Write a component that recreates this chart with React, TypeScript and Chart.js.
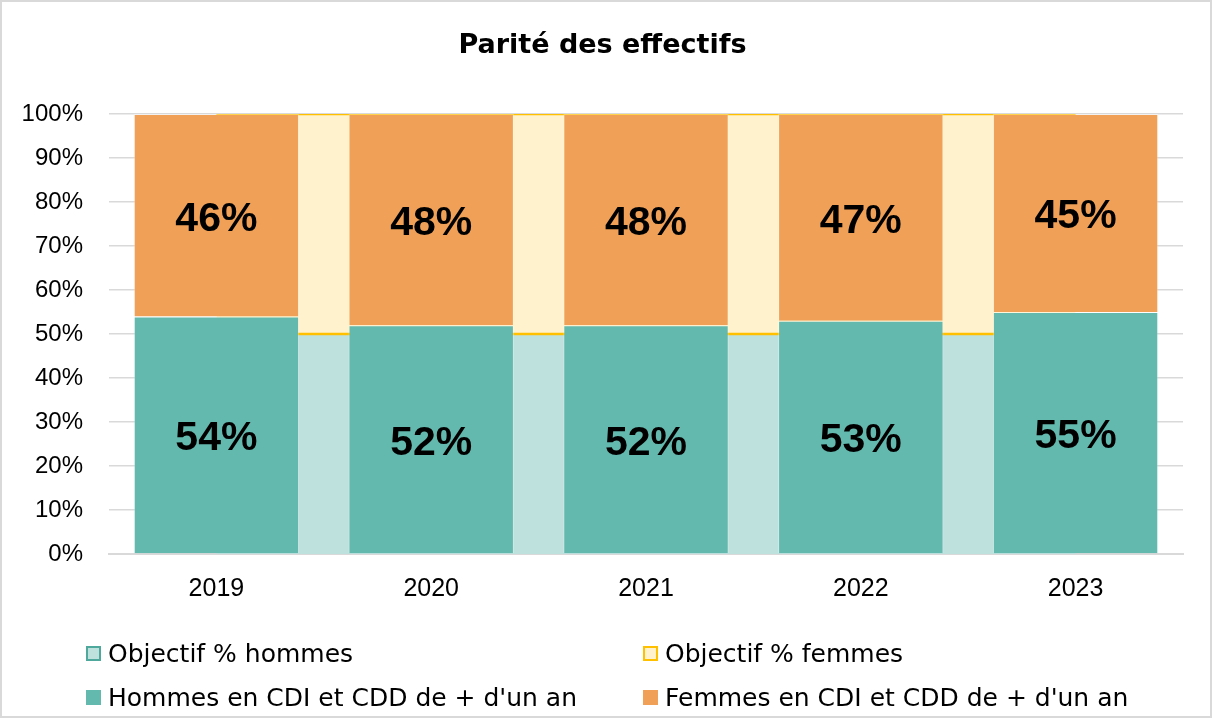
import React, { useEffect, useRef } from "react";
import { Chart, registerables } from "chart.js";

Chart.register(...registerables);

const categories = ["2019", "2020", "2021", "2022", "2023"];
const hommes = [54, 52, 52, 53, 55];
const femmes = [46, 48, 48, 47, 45];
const objectifHommes = [50, 50, 50, 50, 50];
const objectifFemmes = [50, 50, 50, 50, 50];
const yTicks = [0, 10, 20, 30, 40, 50, 60, 70, 80, 90, 100];

const TEAL = "#63B9AE";
const ORANGE = "#F0A057";
const LIGHT_TEAL = "#BFE1DE";
const LIGHT_YELLOW = "#FFF2CC";
const GOLD = "#FFC000";
const GRID = "#D9D9D9";

const legendItems = [
  { label: "Objectif % hommes", fill: LIGHT_TEAL, border: "#4FA89C", left: 86, top: 645 },
  { label: "Objectif % femmes", fill: LIGHT_YELLOW, border: GOLD, left: 643, top: 645 },
  { label: "Hommes en CDI et CDD de + d'un an", fill: TEAL, border: TEAL, left: 86, top: 689 },
  { label: "Femmes en CDI et CDD de + d'un an", fill: ORANGE, border: ORANGE, left: 643, top: 689 },
];

const labelPlugin = {
  id: "barLabels",
  afterDatasetsDraw(chart: any) {
    const ctx = chart.ctx;
    ctx.save();
    ctx.font = "bold 41px 'Liberation Sans', Arial, sans-serif";
    ctx.fillStyle = "#000000";
    ctx.textAlign = "center";
    ctx.textBaseline = "middle";
    chart.data.datasets.forEach((ds: any, i: number) => {
      if (ds.type !== "bar") return;
      const meta = chart.getDatasetMeta(i);
      meta.data.forEach((el: any, j: number) => {
        const v = ds.data[j];
        const cy = (el.y + el.base) / 2 + 4;
        ctx.fillText(`${v}%`, el.x, cy);
      });
    });
    ctx.restore();
  },
};

export default function App() {
  const ref = useRef<HTMLCanvasElement | null>(null);

  useEffect(() => {
    document.body.style.margin = "0";
    if (!ref.current) return;
    const chart = new Chart(ref.current, {
      type: "bar",
      data: {
        labels: categories,
        datasets: [
          {
            type: "line",
            label: "Objectif % hommes",
            data: objectifHommes,
            backgroundColor: LIGHT_TEAL,
            borderColor: GOLD,
            borderWidth: 2.5,
            pointRadius: 0,
            fill: "origin",
            order: 2,
          } as any,
          {
            type: "line",
            label: "Objectif % femmes",
            data: objectifFemmes,
            backgroundColor: LIGHT_YELLOW,
            borderColor: GOLD,
            borderWidth: 2.5,
            pointRadius: 0,
            fill: "-1",
            order: 2,
          } as any,
          {
            type: "bar",
            label: "Hommes en CDI et CDD de + d'un an",
            data: hommes,
            backgroundColor: TEAL,
            borderColor: "rgba(255,255,255,0.3)",
            borderWidth: 1,
            barPercentage: 0.77,
            categoryPercentage: 1,
            order: 1,
          },
          {
            type: "bar",
            label: "Femmes en CDI et CDD de + d'un an",
            data: femmes,
            backgroundColor: ORANGE,
            borderColor: "rgba(255,255,255,0.3)",
            borderWidth: 1,
            barPercentage: 0.77,
            categoryPercentage: 1,
            order: 1,
          },
        ],
      },
      options: {
        animation: false,
        responsive: true,
        maintainAspectRatio: false,
        layout: { padding: { left: 22, right: 29, top: 0, bottom: 94 } },
        plugins: {
          legend: { display: false },
          tooltip: { enabled: false },
          title: {
            display: true,
            text: "Parité des effectifs",
            color: "#000000",
            font: { family: "'DejaVu Sans', sans-serif", size: 27, weight: "bold" },
            padding: { top: 30, bottom: 51.6 },
          },
        },
        scales: {
          x: {
            stacked: true,
            offset: true,
            grid: { display: false, drawTicks: false },
            border: { display: true, color: GRID, width: 2 },
            ticks: {
              color: "#000000",
              padding: 20,
              font: { family: "'Liberation Sans', Arial, sans-serif", size: 25 },
            },
          },
          y: {
            stacked: true,
            min: 0,
            max: 100,
            afterFit: (scale: any) => {
              scale.width = 87;
            },
            afterBuildTicks: (scale: any) => {
              scale.ticks = yTicks.map((v) => ({ value: v }));
            },
            grid: { color: GRID, lineWidth: 1.5, drawTicks: false },
            border: { display: false },
            ticks: {
              color: "#000000",
              padding: 26,
              font: { family: "'Liberation Sans', Arial, sans-serif", size: 24 },
              callback: (v: any) => `${v}%`,
            },
          },
        },
      },
      plugins: [labelPlugin],
    });
    return () => chart.destroy();
  }, []);

  return (
    <div
      style={{
        position: "relative",
        width: 1212,
        height: 718,
        boxSizing: "border-box",
        border: `2px solid ${GRID}`,
        background: "#ffffff",
        overflow: "hidden",
      }}
    >
      <div style={{ position: "absolute", left: -2, top: -2, width: 1212, height: 718 }}>
        <canvas ref={ref} />
      </div>
      {legendItems.map((it) => (
        <div
          key={it.label}
          style={{
            position: "absolute",
            left: it.left - 2,
            top: it.top - 2 - 7,
            height: 30,
            display: "flex",
            alignItems: "center",
            fontFamily: "'DejaVu Sans', sans-serif",
            fontSize: 25,
            color: "#000000",
            whiteSpace: "nowrap",
          }}
        >
          <span
            style={{
              display: "inline-block",
              width: 15,
              height: 15,
              boxSizing: "border-box",
              background: it.fill,
              border: `2px solid ${it.border}`,
              marginRight: 7,
            }}
          />
          <span>{it.label}</span>
        </div>
      ))}
    </div>
  );
}
